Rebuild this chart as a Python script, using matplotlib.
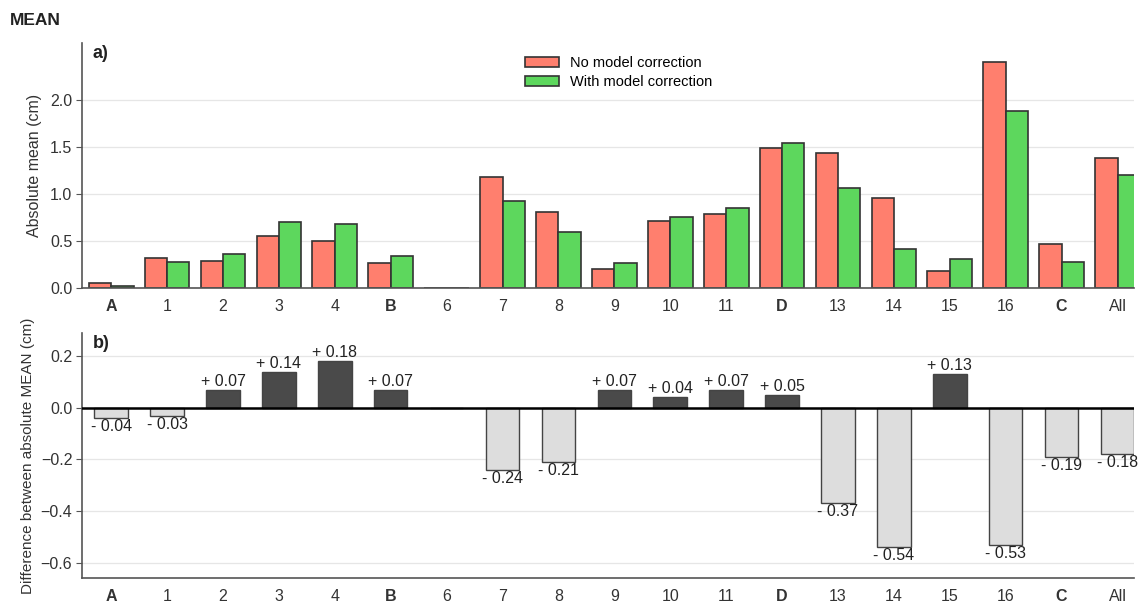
import matplotlib
matplotlib.use('Agg')
import matplotlib.pyplot as plt
import numpy as np

plt.rcParams['font.family'] = ['Liberation Sans', 'DejaVu Sans']

# categorias e valores
categorias = ['A', '1', '2', '3', '4', 'B', '6', '7', '8', '9', '10', '11',
              'D', '13', '14', '15', '16', 'C', 'All']
sem_correcao = [0.06, 0.32, 0.29, 0.56, 0.50, 0.27, 0.0, 1.18, 0.81, 0.20,
                0.72, 0.79, 1.49, 1.44, 0.96, 0.18, 2.41, 0.47, 1.38]
com_correcao = [0.02, 0.28, 0.36, 0.70, 0.68, 0.34, 0.0, 0.93, 0.60, 0.27,
                0.76, 0.85, 1.54, 1.07, 0.42, 0.31, 1.88, 0.28, 1.20]
diferenca = [-0.04, -0.03, 0.07, 0.14, 0.18, 0.07, 0.0, -0.24, -0.21, 0.07,
             0.04, 0.07, 0.05, -0.37, -0.54, 0.13, -0.53, -0.19, -0.18]
negrito = ['A', 'B', 'C', 'D']

x = np.arange(len(categorias))
cinza = '#555555'
fs = 11.5

fig = plt.figure(figsize=(11.4, 6.03), dpi=100)
ax1 = fig.add_axes([0.072, 0.522, 0.923, 0.407])
ax2 = fig.add_axes([0.072, 0.041, 0.923, 0.407])

fig.text(0.009, 0.958, 'MEAN', fontsize=12.5, fontweight='bold', color='#222222')

# painel a)
w = 0.4
ax1.bar(x - w / 2, sem_correcao, w, color='#ff7f6e', edgecolor='#333333',
        linewidth=1.2, label='No model correction')
ax1.bar(x + w / 2, com_correcao, w, color='#5dd75d', edgecolor='#333333',
        linewidth=1.2, label='With model correction')
ax1.set_ylim(0, 2.61)
ax1.set_yticks([0.0, 0.5, 1.0, 1.5, 2.0])
ax1.set_ylabel('Absolute mean (cm)', fontsize=fs, color='#333333', labelpad=6)
ax1.legend(loc='upper center', bbox_to_anchor=(0.51, 1.0), frameon=False,
           fontsize=10.5, handlelength=2.3, labelspacing=0.35)
ax1.text(0.01, 0.99, 'a)', transform=ax1.transAxes, fontsize=13,
         fontweight='bold', va='top', color='#222222')

# painel b)
cores = ['#4a4a4a' if d > 0 else '#dddddd' for d in diferenca]
ax2.bar(x, diferenca, 0.6, color=cores, edgecolor='#444444', linewidth=1.0)
ax2.axhline(0, color='black', linewidth=1.8, zorder=3)
for xi, d in zip(x, diferenca):
    if d > 0:
        ax2.text(xi, d + 0.004, '+ %.2f' % d, ha='center', va='bottom',
                 fontsize=fs, color='#222222')
    elif d < 0:
        ax2.text(xi, d - 0.004, '- %.2f' % abs(d), ha='center', va='top',
                 fontsize=fs, color='#222222')
ax2.set_ylim(-0.66, 0.29)
ax2.set_yticks([-0.6, -0.4, -0.2, 0.0, 0.2])
ax2.set_ylabel('Difference between absolute MEAN (cm)', fontsize=fs - 0.5,
               color='#333333', labelpad=4)
ax2.text(0.01, 0.99, 'b)', transform=ax2.transAxes, fontsize=13,
         fontweight='bold', va='top', color='#222222')

for ax in (ax1, ax2):
    ax.set_xlim(-0.52, 18.3)
    ax.set_xticks(x)
    ax.set_xticklabels(categorias)
    for lbl in ax.get_xticklabels():
        if lbl.get_text() in negrito:
            lbl.set_fontweight('bold')
    ax.tick_params(axis='both', labelsize=fs, colors='#333333', length=0,
                   pad=8)
    ax.tick_params(axis='y', length=4, pad=3, color=cinza)
    ax.grid(axis='y', color='#e6e6e6', linewidth=0.9)
    ax.set_axisbelow(True)
    for s in ('top', 'right'):
        ax.spines[s].set_visible(False)
    for s in ('left', 'bottom'):
        ax.spines[s].set_color(cinza)
        ax.spines[s].set_linewidth(1.2)

fig.savefig('out.png', dpi=100)
